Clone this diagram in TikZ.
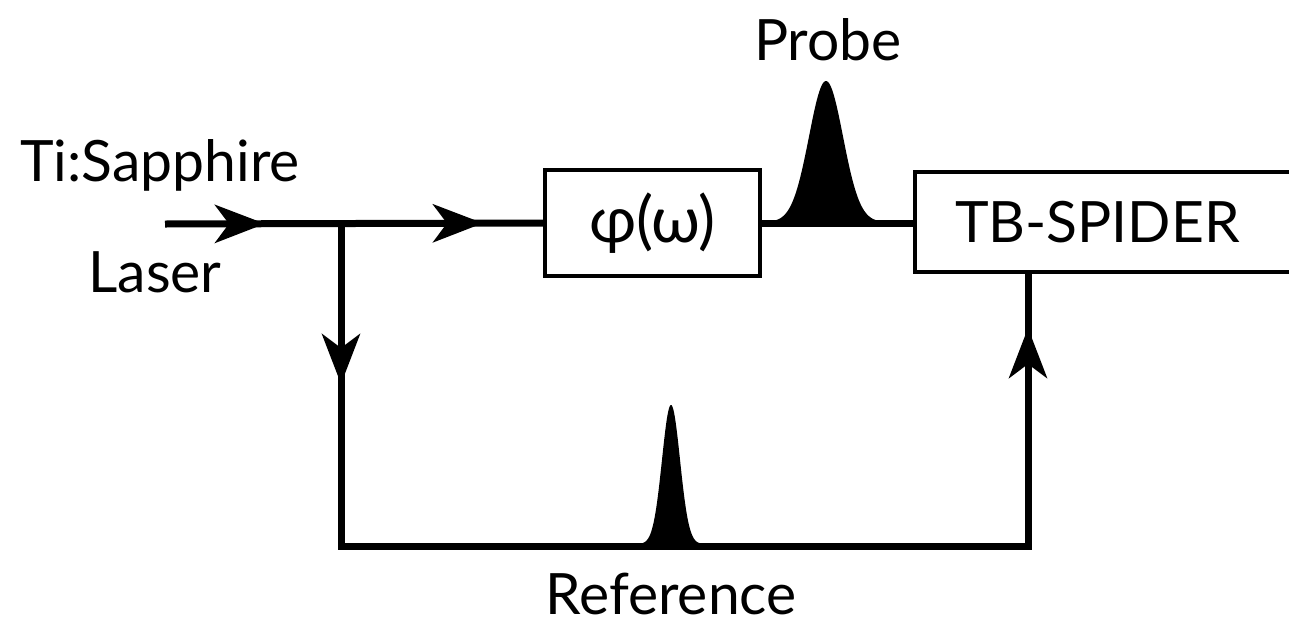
\documentclass[tikz,border=0pt]{standalone}
\usepackage{fontspec}
\setmainfont{Lato}
\usetikzlibrary{arrows.meta,decorations.markings}
\tikzset{tipA/.tip={Stealth[length=50pt,width=38pt,inset=14pt]}}
\begin{document}
\begin{tikzpicture}[x=1pt,y=-1pt,
  wire/.style={line width=7pt},
  blk/.style={draw,line width=4.5pt,inner sep=0pt,font=\fontsize{57}{62}\selectfont},
  lbl/.style={font=\fontsize{57}{62}\selectfont,inner sep=0pt}]
\useasboundingbox (0,0) rectangle (1289,624);
\begin{scope}
\clip (0,0) rectangle (1289,624);
% boxes
\node[blk,minimum width=215pt,minimum height=106pt,font=\fontsize{64}{70}\selectfont] (phi) at (652.5,223) {φ(ω)};
\node[blk,minimum width=390pt,minimum height=100pt,text width=390pt,align=left] (spider) at (1110,222) {\hspace{40pt}TB-SPIDER};
% coordinates
\coordinate (start) at (165,224);
\coordinate (br) at (341,224);
\coordinate (bl) at (341,546);
\coordinate (bre) at (1028,546);
% main wires
\draw[wire,postaction={decorate},decoration={markings,
  mark=at position 100pt with {\arrow{tipA}},
  mark=at position 318pt with {\arrow{tipA}}}] (start) -- (phi.west);
\draw[wire] (phi.east) -- (spider.west |- phi.east);
\draw[wire,postaction={decorate},decoration={markings,
  mark=at position 160pt with {\arrow{tipA}},
  mark=at position 1227pt with {\arrow{tipA}}}] (br) -- (bl) -- (bre) -- (bre |- spider.south);
% pulses
\fill plot[domain=-52:52,samples=120] ({826+\x},{222-141*exp(-((\x/17)^2)/2)}) -- cycle;
\fill plot[domain=-30:30,samples=120] ({671+\x},{544-139*exp(-((\x/9)^2)/2)}) -- cycle;
\end{scope}
% labels
\node[lbl] (probe) at (828,40) {Probe};
\node[lbl] (ti) at (160,165) {Ti:Sapphire};
\node[lbl] (laser) at (155,272) {Laser};
\node[lbl] (ref) at (671,594) {Reference};
\end{tikzpicture}
\end{document}
